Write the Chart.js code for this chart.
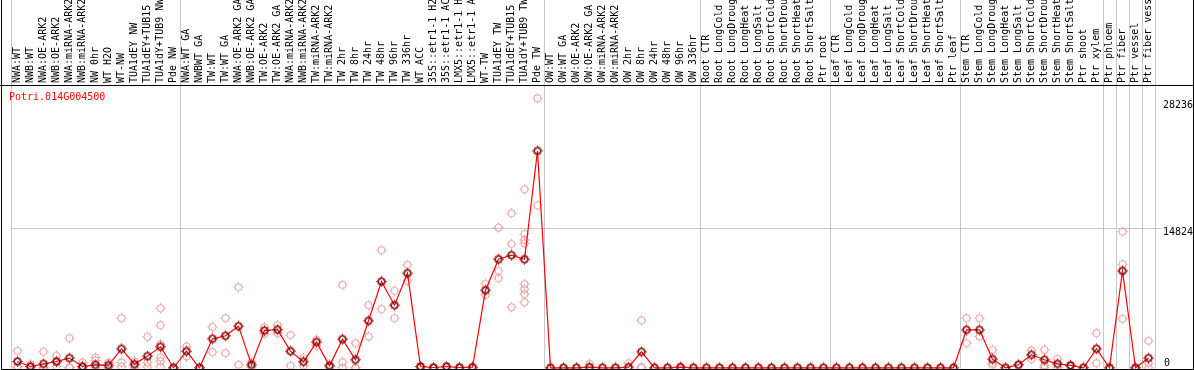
<!DOCTYPE html>
<html><head><meta charset="utf-8">
<script src="https://cdn.jsdelivr.net/npm/chart.js@4"></script>
<style>
html,body{margin:0;padding:0;background:#fff;}
#wrap{position:relative;width:1194px;height:370px;overflow:hidden;}
#c{position:absolute;left:0;top:0;}
#frame{position:absolute;left:1px;top:0;width:1193px;height:370px;box-sizing:border-box;border-left:1px solid #000;border-right:1px solid #000;border-bottom:1px solid #000;pointer-events:none;}
#topline{position:absolute;left:0;top:85px;width:1194px;height:1px;background:#000;}
#gene{position:absolute;left:9px;top:92px;font:10px/10px "DejaVu Sans Mono",monospace;color:#f00;white-space:nowrap;}
</style></head>
<body>
<div id="wrap">
<canvas id="c" width="1194" height="374"></canvas>
<div id="topline"></div>
<div id="frame"></div>
<div id="gene"></div>
</div>
<script>
const geneName = 'Potri.014G004500';

const categories = [
 'NWA:WT','NWB:WT','NWA:OE-ARK2','NWB:OE-ARK2','NWA:miRNA-ARK2','NWB:miRNA-ARK2','NW 0hr','WT H2O','WT-NW','TUA1dEY NW','TUA1dEY+TUB15 NW','TUA1dY+TUB9 NW','Pde NW',
 'NWA:WT GA','NWBWT GA','TW:WT','TW:WT GA','NWA:OE-ARK2 GA','NWB:OE-ARK2 GA','TW:OE-ARK2','TW:OE-ARK2 GA','NWA:miRNA-ARK2','NWB:miRNA-ARK2','TW:miRNA-ARK2','TW:miRNA-ARK2',
 'TW 2hr','TW 8hr','TW 24hr','TW 48hr','TW 96hr','TW 336hr','WT ACC','35S::etr1-1 H2O','35S::etr1-1 ACC','LMX5::etr1-1 H2O','LMX5::etr1-1 ACC','WT-TW','TUA1dEY TW','TUA1dEY+TUB15 TW','TUA1dY+TUB9 TW','Pde TW',
 'OW:WT','OW:WT GA','OW:OE-ARK2','OW:OE-ARK2 GA','OW:miRNA-ARK2','OW:miRNA-ARK2','OW 2hr','OW 8hr','OW 24hr','OW 48hr','OW 96hr','OW 336hr',
 'Root CTR','Root LongCold','Root LongDrought','Root LongHeat','Root LongSalt','Root ShortCold','Root ShortDrought','Root ShortHeat','Root ShortSalt','Ptr root',
 'Leaf CTR','Leaf LongCold','Leaf LongDrought','Leaf LongHeat','Leaf LongSalt','Leaf ShortCold','Leaf ShortDrought','Leaf ShortHeat','Leaf ShortSalt','Ptr leaf',
 'Stem CTR','Stem LongCold','Stem LongDrought','Stem LongHeat','Stem LongSalt','Stem ShortCold','Stem ShortDrought','Stem ShortHeat','Stem ShortSalt','Ptr shoot','Ptr xylem',
 'Ptr phloem','Ptr fiber','Ptr vessel','Ptr fiber vessel'
];

// first category index of each group (vertical separators)
const groupStarts = [0, 13, 41, 53, 63, 73, 84, 85, 86, 87];

const meanValues = [
 670,140,420,670,1030,140,320,280,2015,390,1240,2230,0,
 1770,0,3080,3400,4420,320,3960,4060,1770,640,2730,210,3040,850,4990,9160,6650,10050,140,30,140,30,70,8240,11530,11960,11530,23030,
 0,0,0,70,0,0,70,1700,0,0,70,0,
 0,0,0,0,0,0,0,0,0,0,
 0,0,0,0,0,0,0,0,0,0,
 4030,4030,920,0,320,1380,850,420,250,0,2020,
 0,10290,0,1030
];

const replicateValues = [
 [1800,100,100],[390,30,0],[1700,0,0],[1270,600,140],[3150,30,0],[560,0,0],[1090,775,0],[560,100,0],[5270,560,140],[700,300,0],[3290,560,100],[6330,4530,2510,1090,700,100],[0,0],
 [2260,1200],[0,0],[4320,1665],[5270,1560],[8560,320],[560,100],[3610,4310],[4530,3680],[3470,210],[1030,210],[2970,2330],[320,100],[8800,600,0],[2620,0,0],[6650,3320],[12490,6230],[8170,5270],[10930,9230],[100,0],[0,0],[100,0],[0,0],[0,0],[8910,7750],[14890,10290,9520],[16410,13140,6440],[18960,14220,13580,13230,8880,8350,7820,6970],[28620,17260],
 [0],[0],[0],[420,0],[0],[0],[500,0],[5060,70,0],[0],[0],[100,0],[0],
 [0],[0],[0],[0],[0],[0],[0],[0],[0],[0],
 [0],[0],[0],[0],[0],[0],[0],[0],[0],[0],
 [5270,2620],[5270,3320],[1910,500,320],[0],[320,320],[1840,920],[1910,250,0],[950,0],[300,200],[0],[3680,500],
 [0],[14460,11000,5200],[0],[2860,500,0]
];

const yTickValues = [0, 14824, 28236];
const yTickLabels = ['0', '14824', '28236'];

document.getElementById('gene').textContent = geneName;

function makeMarker(outer, inner, size) {
  const c = document.createElement('canvas');
  c.width = 13; c.height = 13;
  const g = c.getContext('2d');
  const m = 6.5;
  g.strokeStyle = outer; g.lineWidth = 1;
  g.beginPath(); g.arc(m, m, size, 0, Math.PI * 2); g.stroke();
  g.beginPath();
  g.moveTo(m, m - size - 1.4); g.lineTo(m, m - size);
  g.moveTo(m, m + size); g.lineTo(m, m + size + 1.4);
  g.moveTo(m - size - 1.4, m); g.lineTo(m - size, m);
  g.moveTo(m + size, m); g.lineTo(m + size + 1.4, m);
  g.stroke();
  if (inner) {
    g.strokeStyle = inner;
    g.beginPath(); g.arc(m, m, size - 1, 0, Math.PI * 2); g.stroke();
  }
  return c;
}
const meanMarker = makeMarker('#ff0000', '#000000', 4);
const repMarker = makeMarker('rgb(236,150,155)', null, 3.6);

const maxReps = Math.max(...replicateValues.map(r => r.length));
const repDatasets = [];
for (let k = 0; k < maxReps; k++) {
  repDatasets.push({
    label: 'rep' + k,
    data: replicateValues.map(r => (k < r.length ? r[k] : null)),
    showLine: false,
    pointStyle: repMarker,
    pointRadius: 4,
    clip: false
  });
}

const boundarySet = new Set(groupStarts);
const gray = '#c8c8c8';

const yLabelPlugin = {
  id: 'yLabels',
  afterDraw(chart) {
    const s = chart.scales.y, c = chart.ctx;
    c.save();
    c.font = '10px "DejaVu Sans Mono"';
    c.fillStyle = '#000';
    c.textAlign = 'left';
    yTickValues.forEach((v, i) => {
      const py = s.getPixelForValue(v);
      if (v === 0) { c.textBaseline = 'alphabetic'; c.fillText(yTickLabels[i], s.left + 9, py - 2); }
      else { c.textBaseline = 'top'; c.fillText(yTickLabels[i], s.left + 8, py - 1); }
    });
    c.restore();
  }
};

new Chart(document.getElementById('c'), {
  type: 'line',
  data: {
    labels: categories,
    datasets: [{
      label: 'mean',
      data: meanValues,
      borderColor: '#ff0000',
      borderWidth: 1.2,
      tension: 0,
      pointStyle: meanMarker,
      pointRadius: 4,
      clip: false
    }].concat(repDatasets)
  },
  options: {
    responsive: false,
    animation: false,
    events: [],
    layout: { padding: { left: 11, right: 1, top: 0, bottom: 0.8 } },
    plugins: { legend: { display: false }, tooltip: { enabled: false } },
    scales: {
      x: {
        type: 'category',
        position: 'top',
        offset: true,
        grid: {
          offset: true,
          color: ctx => (ctx.index === undefined || boundarySet.has(ctx.index)) ? gray : 'rgba(0,0,0,0)',
          lineWidth: 1,
          tickLength: 85,
          drawTicks: true
        },
        border: { display: true, color: '#000', width: 1 },
        ticks: {
          autoSkip: false,
          minRotation: 90,
          maxRotation: 90,
          padding: -83,
          labelOffset: 12,
          color: '#000',
          font: { family: 'DejaVu Sans Mono', size: 10 }
        },
        afterFit: s => { s.height = 85; }
      },
      y: {
        position: 'right',
        min: -106,
        max: 30030,
        afterBuildTicks: s => { s.ticks = yTickValues.map(v => ({ value: v })); },
        grid: {
          color: ctx => ctx.index === 1 ? gray : 'rgba(0,0,0,0)',
          tickLength: 7,
          drawTicks: true
        },
        border: { display: false },
        ticks: { display: false },
        afterFit: s => { s.width = 38; }
      }
    }
  },
  plugins: [yLabelPlugin]
});
</script>
</body></html>
